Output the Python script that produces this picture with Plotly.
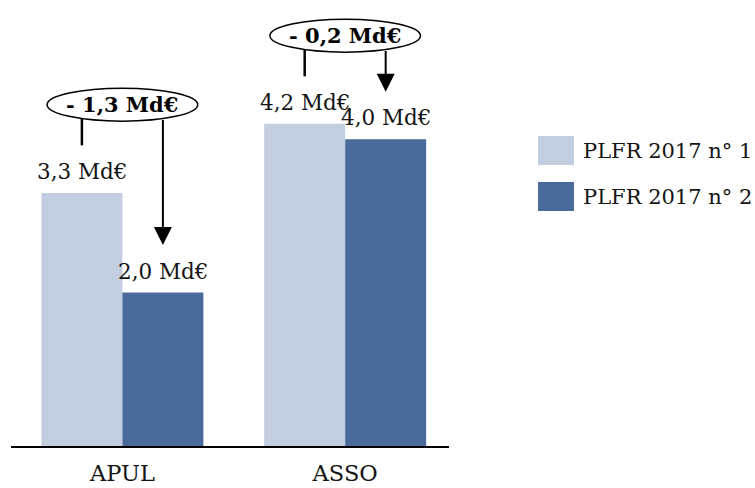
import plotly.graph_objects as go

# Data
categories = ["APUL", "ASSO"]
plfr_1 = [3.3, 4.2]
plfr_2 = [2.0, 4.0]
series_names = ["PLFR 2017 n° 1", "PLFR 2017 n° 2"]

LIGHT = "#C3CDE0"
DARK = "#4A6A9B"
FONT = "DejaVu Serif"
TXT = "#141414"

W, H = 755, 488
ML, MT, MB = 11, 0, 42
PLOT_W = 438
PLOT_H = H - MT - MB

BARGAP = 0.273
bar_off = (1 - BARGAP) / 4  # centre offset of each bar within a group


def fmt(v):
    return f"{v:.1f}".replace(".", ",") + " Md€"


fig = go.Figure()
for name, vals, col in [(series_names[0], plfr_1, LIGHT), (series_names[1], plfr_2, DARK)]:
    fig.add_trace(go.Bar(x=categories, y=vals, name=name, marker_color=col,
                         marker_line_width=0, showlegend=False))

annotations = []
shapes = []

# value labels above bars
for i in range(len(categories)):
    for v, dx in [(plfr_1[i], -bar_off), (plfr_2[i], bar_off)]:
        annotations.append(dict(x=i + dx, y=v, xref="x", yref="y", text=fmt(v),
                                showarrow=False, yanchor="bottom", yshift=7,
                                font=dict(family=FONT, size=21.5, color=TXT)))

# difference callouts: ellipse with bracket line and arrow
LEAD = 0.62      # gap between bar top and line end
ELL_RISE = 1.15  # ellipse centre above the tallest bar
ELL_HH = 0.215   # half height of ellipse (y units)
ELL_HW = 0.338   # half width of ellipse (x units)
for i in range(len(categories)):
    a, b = plfr_1[i], plfr_2[i]
    cy = max(a, b) + ELL_RISE
    cx = i
    shapes.append(dict(type="circle", xref="x", yref="y",
                       x0=cx - ELL_HW, x1=cx + ELL_HW, y0=cy - ELL_HH, y1=cy + ELL_HH,
                       line=dict(color="black", width=1.5), fillcolor="white", layer="above"))
    edge = cy - ELL_HH * (1 - (bar_off / ELL_HW) ** 2) ** 0.5
    shapes.append(dict(type="line", xref="x", yref="y",
                       x0=i - bar_off, x1=i - bar_off, y0=a + LEAD, y1=edge,
                       line=dict(color="black", width=2.5)))
    annotations.append(dict(x=i + bar_off, y=b + LEAD, ax=i + bar_off, ay=edge,
                            xref="x", yref="y", axref="x", ayref="y", text="",
                            showarrow=True, arrowhead=2, arrowsize=1.8, arrowwidth=2,
                            arrowcolor="black", standoff=0))
    diff = b - a
    annotations.append(dict(x=cx, y=cy, xref="x", yref="y",
                            text="<b>- " + fmt(abs(diff)) + "</b>", showarrow=False,
                            font=dict(family=FONT, size=21, color="black")))


# legend drawn as large swatches with labels
def px_x(px):
    return (px - ML) / (W - ML)


def px_y(py):
    return (MT + PLOT_H - py) / PLOT_H


for name, col, top in [(series_names[0], LIGHT, 136), (series_names[1], DARK, 182)]:
    shapes.append(dict(type="rect", xref="paper", yref="paper",
                       x0=px_x(538), x1=px_x(574), y0=px_y(top + 29), y1=px_y(top),
                       line=dict(width=0), fillcolor=col))
    annotations.append(dict(x=px_x(581), y=px_y(top + 14.5), xref="paper", yref="paper",
                            text=name, showarrow=False, xanchor="left", yanchor="middle",
                            font=dict(family=FONT, size=21, color=TXT)))

fig.update_layout(
    width=W, height=H,
    margin=dict(l=ML, r=0, t=MT, b=MB),
    paper_bgcolor="white", plot_bgcolor="white",
    barmode="group", bargap=BARGAP, bargroupgap=0,
    xaxis=dict(domain=[0, PLOT_W / (W - ML)], range=[-0.5, 1.466],
               showline=True, linecolor="black", linewidth=2, showgrid=False,
               ticks="outside", ticklen=6, tickcolor="white",
               tickfont=dict(family=FONT, size=22.5, color=TXT)),
    yaxis=dict(range=[0, PLOT_H / 76.7], visible=False, showgrid=False),
    shapes=shapes, annotations=annotations,
)

fig.write_html("out.html")
